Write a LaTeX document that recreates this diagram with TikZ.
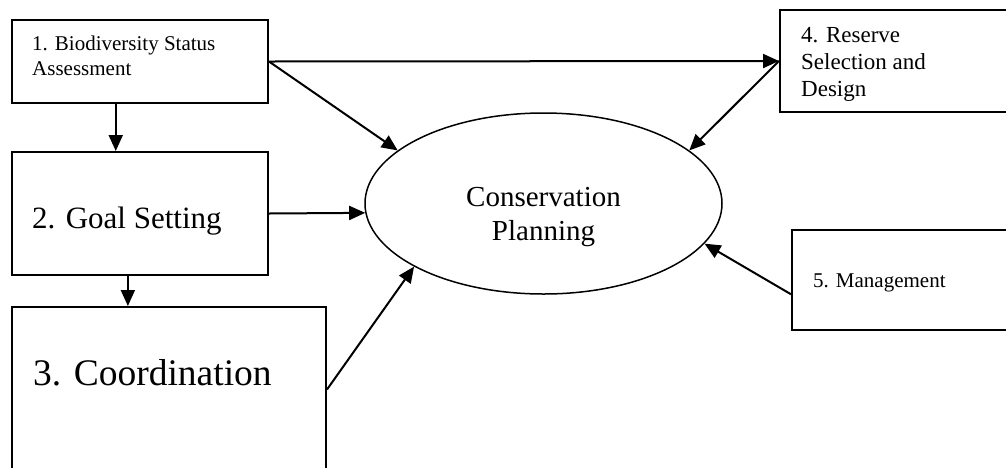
\documentclass[tikz,border=0pt]{standalone}
\usepackage{fontspec}
\setmainfont{Liberation Serif}
\usetikzlibrary{arrows.meta,calc,shapes.geometric}
\begin{document}
\begin{tikzpicture}[x=1pt,y=-1pt,
  box/.style={draw,line width=2pt,rectangle,inner sep=0pt},
  conn/.style={line width=2pt,-{Triangle[length=16pt,width=14pt]}},
  lbl/.style={inner sep=0pt,align=left}]
\useasboundingbox (0,0) rectangle (1006,467);
% boxes
\node[box,minimum width=256pt,minimum height=83pt] (b1) at (140,61.5) {};
\node[box,minimum width=256pt,minimum height=123pt] (b2) at (140,213.5) {};
\node[box,minimum width=314pt,minimum height=165pt] (b3) at (169,389.5) {};
\node[box,minimum width=232pt,minimum height=102pt] (b4) at (896,61) {};
\node[box,minimum width=220pt,minimum height=100pt] (b5) at (902,280) {};
\node[draw,ellipse,line width=1.5pt,inner sep=0pt,minimum width=357pt,minimum height=181pt] (e) at (543.5,203.5) {};
% texts
\node[lbl,anchor=north west,font=\fontsize{21}{25}\selectfont] (t1) at (32,35.5) {1. Biodiversity Status\\Assessment};
\node[lbl,anchor=base west,font=\fontsize{31}{36}\selectfont] (t2) at (32,228) {2. Goal Setting};
\node[lbl,anchor=base west,font=\fontsize{37.5}{44}\selectfont] (t3) at (33,385) {3. Coordination};
\node[lbl,anchor=north west,font=\fontsize{23}{27}\selectfont] (t4) at (801,27) {4. Reserve\\Selection and\\Design};
\node[lbl,anchor=base west,font=\fontsize{21}{25}\selectfont] (t5) at (813,287) {5. Management};
\node[inner sep=0pt,align=center,anchor=north,font=\fontsize{29}{34}\selectfont] (te) at (543.5,187) {Conservation\\Planning};
% connectors
\coordinate (s12) at ($(b1.south west)!0.406!(b1.south east)$);
\coordinate (s23) at ($(b2.south west)!0.453!(b2.south east)$);
\coordinate (s5) at ($(b5.south west)!0.36!(b5.north west)$);
\draw[conn] (s12) -- (s12 |- b2.north);
\draw[conn] (s23) -- (s23 |- b3.north);
\draw[conn] (b1.east) -- (b4.west);
\draw[conn] (b1.east) -- (e.160.3);
\draw[conn] (b4.west) -- (e.20.7);
\draw[conn] (b2.east) -- (e.183.4);
\draw[conn] (b3.east) -- (e.206.3);
\draw[conn] (s5) -- (e.346.4);
\end{tikzpicture}
\end{document}
